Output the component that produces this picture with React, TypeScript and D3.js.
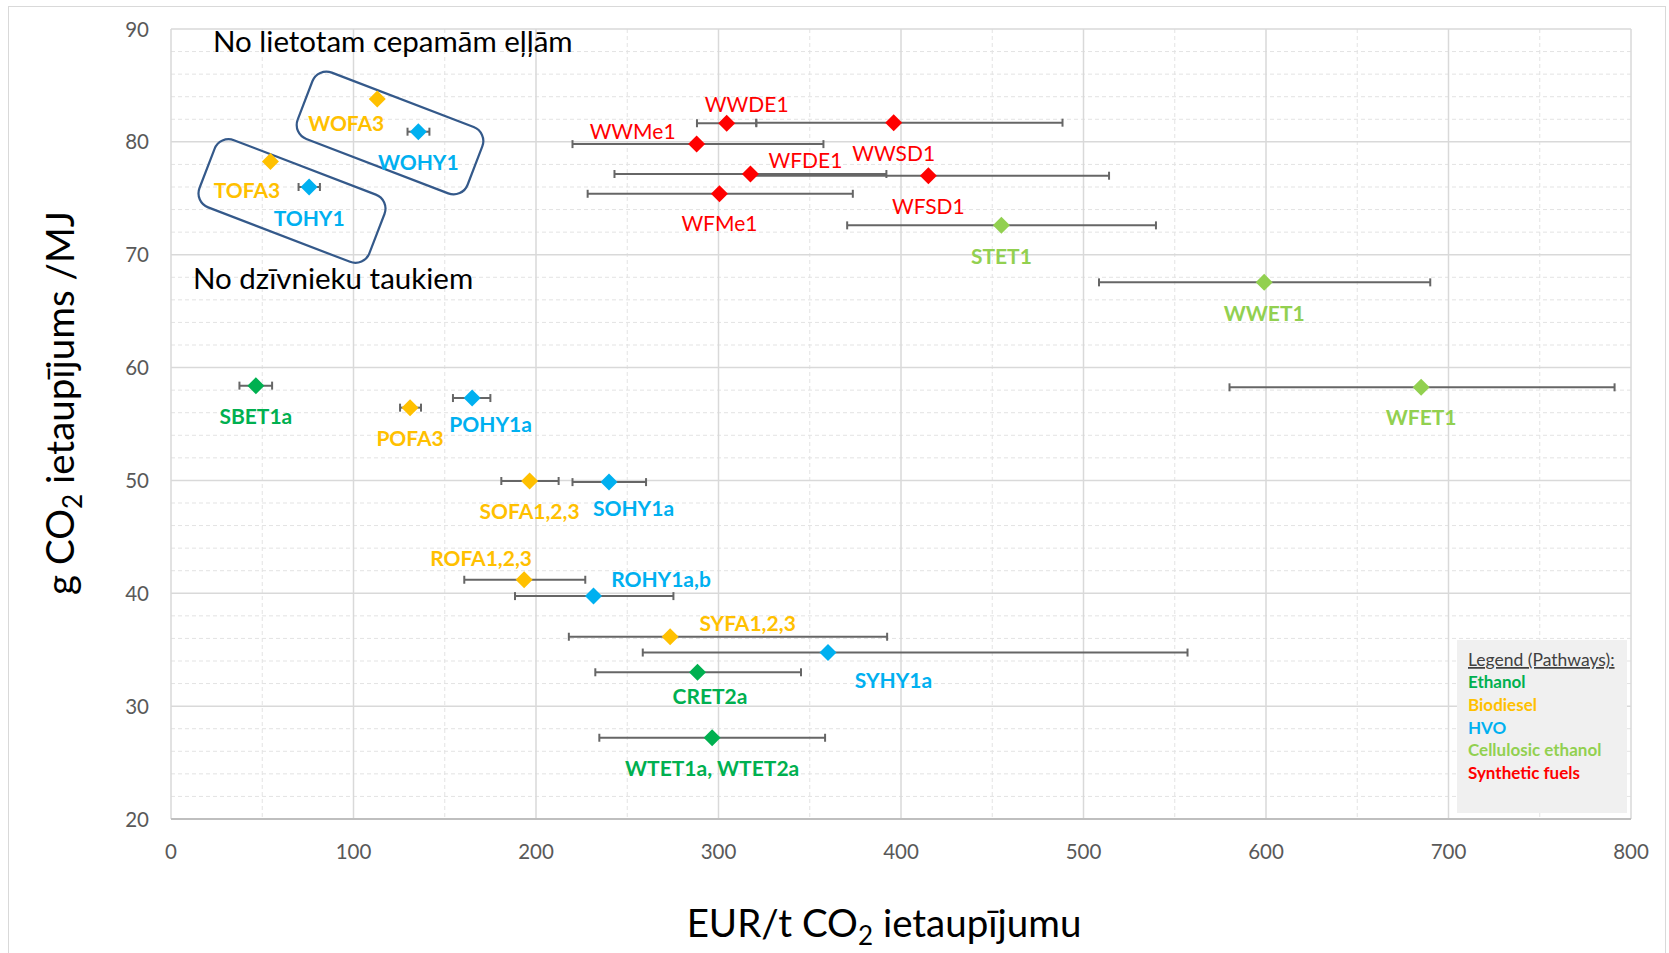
import React from "react";
import * as d3 from "d3";

// ---------- data ----------
const pathwayNames = ["Ethanol", "Biodiesel", "HVO", "Cellulosic ethanol", "Synthetic fuels"];
const pathwayColors = ["#00b050", "#ffc000", "#00b0f0", "#92d050", "#ff0000"];

const pointNames = [
  "WOFA3", "WOHY1", "TOFA3", "TOHY1",
  "WWDE1", "WWSD1", "WWMe1", "WFDE1", "WFSD1", "WFMe1",
  "STET1", "WWET1", "WFET1",
  "SBET1a", "POFA3", "POHY1a", "SOFA1,2,3", "SOHY1a",
  "ROFA1,2,3", "ROHY1a,b", "SYFA1,2,3", "SYHY1a", "CRET2a", "WTET1a, WTET2a",
];
const pointPathway = [
  1, 2, 1, 2,
  4, 4, 4, 4, 4, 4,
  3, 3, 3,
  0, 1, 2, 1, 2,
  1, 2, 1, 2, 0, 0,
];
const costValues = [
  113, 135.5, 54.5, 75.7,
  304.5, 396, 288, 317.5, 415, 300.5,
  455, 599, 685,
  46.5, 131, 165, 196.5, 240,
  193.5, 231.5, 273.5, 360, 288.5, 296.5,
];
const savingValues = [
  83.8, 80.9, 78.25, 76.0,
  81.65, 81.7, 79.8, 77.15, 77.0, 75.4,
  72.6, 67.55, 58.25,
  58.4, 56.45, 57.3, 49.95, 49.85,
  41.2, 39.75, 36.15, 34.75, 33.0, 27.2,
];
const costLow: (number | null)[] = [
  null, 129.6, null, 69.9,
  288.2, 320.7, 220, 243, 317.5, 228.3,
  370.5, 508.5, 580,
  37.5, 125.5, 154.5, 181, 220,
  160.7, 188.5, 218, 258.5, 232.5, 234.7,
];
const costHigh: (number | null)[] = [
  null, 141.6, null, 81.6,
  320.7, 488.5, 357.5, 392, 514, 373.6,
  539.7, 690, 791,
  55.4, 137, 175, 212.4, 260.3,
  227, 275.3, 392.4, 557, 345.2, 358.4,
];

const xTicks = [0, 100, 200, 300, 400, 500, 600, 700, 800];
const yTicks = [20, 30, 40, 50, 60, 70, 80, 90];

// ---------- layout (label placement relative to its marker, px) ----------
const labelOffsets: Record<string, [number, number]> = {
  "WOFA3": [-31, 24.5], "WOHY1": [0, 31], "TOFA3": [-23.5, 29], "TOHY1": [0, 31],
  "WWDE1": [20, -18.5], "WWSD1": [0, 30.5], "WWMe1": [-64, -13], "WFDE1": [55, -14],
  "WFSD1": [0, 31], "WFMe1": [0, 30], "STET1": [0, 31], "WWET1": [0, 31], "WFET1": [0, 30.5],
  "SBET1a": [0, 31], "POFA3": [0, 30.5], "POHY1a": [18.5, 26], "SOFA1,2,3": [0, 30.5],
  "SOHY1a": [24.5, 26.5], "ROFA1,2,3": [-43, -21.5], "ROHY1a,b": [67.5, -16.5],
  "SYFA1,2,3": [77.5, -13.5], "SYHY1a": [65.5, 27.5], "CRET2a": [12.5, 24], "WTET1a, WTET2a": [0, 30.5],
};

const W = 1669;
const H = 953;
const FONT = "Lato, 'Open Sans', 'DejaVu Sans', sans-serif";

export default function App() {
  const x = d3.scaleLinear().domain([0, 800]).range([171, 1631]);
  const y = d3.scaleLinear().domain([20, 90]).range([819, 29]);

  const minorX = d3.range(50, 800, 100);
  const minorY = d3.range(20, 90, 2).filter((v) => v % 10 !== 0);

  const diamond = (cx: number, cy: number, r: number) => {
    const p = d3.path();
    p.moveTo(cx, cy - r);
    p.lineTo(cx + r, cy);
    p.lineTo(cx, cy + r);
    p.lineTo(cx - r, cy);
    p.closePath();
    return p.toString();
  };

  const idx = d3.range(pointNames.length);
  const capH = 4;

  const boxes = [
    { cx: 390, cy: 133, w: 182, h: 71 },
    { cx: 292, cy: 201, w: 182, h: 72 },
  ];

  return (
    <svg
      width={W}
      height={H}
      style={{ position: "absolute", left: 0, top: 0, background: "#fff" }}
      fontFamily={FONT}
    >
      <rect x={8.5} y={6.5} width={1657} height={960} fill="none" stroke="#d9d9d9" strokeWidth={1} />

      {/* minor grid */}
      {minorX.map((v) => (
        <line key={"mx" + v} x1={x(v)} x2={x(v)} y1={y(90)} y2={y(20)} stroke="#e3e3e3" strokeWidth={1} strokeDasharray="4 3" />
      ))}
      {minorY.map((v) => (
        <line key={"my" + v} x1={x(0)} x2={x(800)} y1={y(v)} y2={y(v)} stroke="#e3e3e3" strokeWidth={1} strokeDasharray="4 3" />
      ))}
      {/* major grid */}
      {xTicks.map((v) => (
        <line key={"gx" + v} x1={x(v)} x2={x(v)} y1={y(90)} y2={y(20)} stroke="#d9d9d9" strokeWidth={1.5} />
      ))}
      {yTicks.map((v) => (
        <line key={"gy" + v} x1={x(0)} x2={x(800)} y1={y(v)} y2={y(v)} stroke="#d9d9d9" strokeWidth={1.5} />
      ))}
      <line x1={x(0)} x2={x(800)} y1={y(20)} y2={y(20)} stroke="#bfbfbf" strokeWidth={2} />

      {/* tick labels */}
      {xTicks.map((v) => (
        <text key={"tx" + v} x={x(v)} y={859} textAnchor="middle" fontSize={20.5} fill="#595959">
          {v}
        </text>
      ))}
      {yTicks.map((v) => (
        <text key={"ty" + v} x={149} y={y(v) + 7.5} textAnchor="end" fontSize={20.5} fill="#595959">
          {v}
        </text>
      ))}

      {/* axis titles */}
      <text x={884} y={937} textAnchor="middle" fontSize={38.5} fill="#000">
        EUR/t CO<tspan fontSize={26} dy={8}>2</tspan>
        <tspan dy={-8}> ietaupījumu</tspan>
      </text>
      <text transform="translate(74,403) rotate(-90)" textAnchor="middle" fontSize={38.5} fill="#000">
        g CO<tspan fontSize={26} dy={8}>2</tspan>
        <tspan dy={-8}> ietaupījums /MJ</tspan>
      </text>

      {/* group boxes */}
      {boxes.map((b, i) => (
        <rect
          key={"box" + i}
          x={-b.w / 2}
          y={-b.h / 2}
          width={b.w}
          height={b.h}
          rx={15}
          ry={15}
          fill="none"
          stroke="#34598a"
          strokeWidth={2.2}
          transform={`translate(${b.cx},${b.cy}) rotate(21)`}
        />
      ))}
      <text x={213} y={52} fontSize={29.5} fill="#000">No lietotam cepamām eļļām</text>
      <text x={193} y={289} fontSize={29.5} fill="#000">No dzīvnieku taukiem</text>

      {/* error bars */}
      {idx.map((i) => {
        const lo = costLow[i];
        const hi = costHigh[i];
        if (lo == null || hi == null) return null;
        const cy = y(savingValues[i]);
        return (
          <g key={"eb" + i} stroke="#666666" strokeWidth={2}>
            <line x1={x(lo)} x2={x(hi)} y1={cy} y2={cy} />
            <line x1={x(lo)} x2={x(lo)} y1={cy - capH} y2={cy + capH} />
            <line x1={x(hi)} x2={x(hi)} y1={cy - capH} y2={cy + capH} />
          </g>
        );
      })}

      {/* markers */}
      {idx.map((i) => (
        <path key={"m" + i} d={diamond(x(costValues[i]), y(savingValues[i]), 8.5)} fill={pathwayColors[pointPathway[i]]} />
      ))}

      {/* labels */}
      {idx.map((i) => {
        const [dx, dy] = labelOffsets[pointNames[i]] || [0, 30];
        const synth = pointPathway[i] === 4;
        return (
          <text
            key={"l" + i}
            x={x(costValues[i]) + dx}
            y={y(savingValues[i]) + dy + 7.5}
            textAnchor="middle"
            fontSize={21}
            fontWeight={synth ? 400 : 700}
            fill={pathwayColors[pointPathway[i]]}
          >
            {pointNames[i]}
          </text>
        );
      })}

      {/* legend */}
      <rect x={1457} y={640} width={170} height={173} fill="#f0f0f0" />
      <text x={1468} y={666} fontSize={17.5} fill="#404040" textDecoration="underline">
        Legend (Pathways):
      </text>
      {pathwayNames.map((n, i) => (
        <text key={"lg" + i} x={1468} y={688 + i * 22.8} fontSize={17} fontWeight={700} fill={pathwayColors[i]}>
          {n}
        </text>
      ))}
    </svg>
  );
}
